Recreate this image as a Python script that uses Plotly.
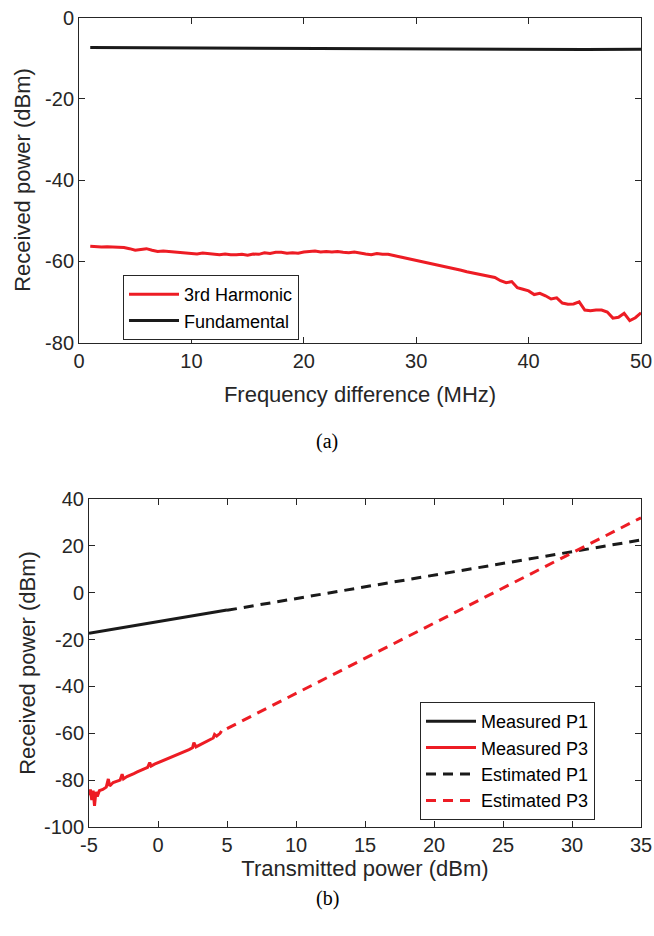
import plotly.graph_objects as go

# ---------------- (a) data ----------------
freq_mhz = [1.0, 1.5, 2.0, 2.5, 3.0, 3.5, 4.0, 4.5, 5.0, 5.5, 6.0, 6.5, 7.0, 7.5, 8.0, 8.5, 9.0, 9.5,
            10.0, 10.5, 11.0, 11.5, 12.0, 12.5, 13.0, 13.5, 14.0, 14.5, 15.0, 15.5, 16.0, 16.5, 17.0, 17.5,
            18.0, 18.5, 19.0, 19.5, 20.0, 20.5, 21.0, 21.5, 22.0, 22.5, 23.0, 23.5, 24.0, 24.5, 25.0, 25.5,
            26.0, 26.5, 27.0, 27.5, 28.0, 28.5, 29.0, 29.5, 30.0, 30.5, 31.0, 31.5, 32.0, 32.5, 33.0, 33.5,
            34.0, 34.5, 35.0, 35.5, 36.0, 36.5, 37.0, 37.5, 38.0, 38.5, 39.0, 39.5, 40.0, 40.5, 41.0, 41.5,
            42.0, 42.5, 43.0, 43.5, 44.0, 44.5, 45.0, 45.5, 46.0, 46.5, 47.0, 47.5, 48.0, 48.5, 49.0, 49.5, 50.0]
harmonic3_dbm = [-56.3, -56.4, -56.5, -56.4, -56.5, -56.6, -56.6, -56.9, -57.3, -57.1, -56.9, -57.3, -57.6, -57.5,
                 -57.6, -57.8, -57.8, -57.9, -58.0, -58.2, -58.0, -58.1, -58.3, -58.4, -58.2, -58.4, -58.4, -58.3,
                 -58.5, -58.2, -58.3, -57.9, -58.1, -57.8, -57.8, -58.0, -57.9, -58.0, -57.7, -57.6, -57.5, -57.7,
                 -57.6, -57.7, -57.6, -57.8, -57.9, -57.7, -58.0, -58.2, -58.4, -58.1, -58.3, -58.3, -58.6, -58.9,
                 -59.1, -59.4, -59.8, -60.1, -60.3, -60.7, -60.9, -61.3, -61.5, -61.8, -62.2, -62.6, -62.9, -63.1,
                 -63.4, -63.7, -64.0, -64.8, -65.3, -65.0, -66.5, -66.9, -67.3, -68.2, -67.9, -68.5, -69.3, -69.0,
                 -70.3, -70.6, -70.5, -70.0, -72.0, -72.2, -72.0, -72.0, -72.5, -74.0, -73.8, -72.8, -74.6, -73.9,
                 -72.7]
fund_freq_mhz = [1, 5, 10, 15, 20, 25, 30, 35, 40, 45, 50]
fundamental_dbm = [-7.4, -7.45, -7.5, -7.55, -7.6, -7.65, -7.7, -7.8, -7.9, -7.9, -7.8]

# ---------------- (b) data ----------------
p1_tx_dbm = [-5, -4, -3, -2, -1, 0, 1, 2, 3, 4, 5]
p1_meas_dbm = [-17.3, -16.3, -15.3, -14.3, -13.3, -12.4, -11.4, -10.4, -9.4, -8.4, -7.4]
p3_tx_dbm = [-5.0, -4.9, -4.8, -4.7, -4.6, -4.5, -4.4, -4.25, -4.0, -3.75, -3.6, -3.5, -3.25, -3.0, -2.75,
             -2.6, -2.5, -2.25, -2.0, -1.75, -1.5, -1.25, -1.0, -0.75, -0.6, -0.5, -0.25, 0.0, 0.25, 0.5,
             0.75, 1.0, 1.25, 1.5, 1.75, 2.0, 2.25, 2.5, 2.6, 2.75, 3.0, 3.25, 3.5, 3.75, 4.0, 4.1, 4.25,
             4.5, 4.6]
p3_meas_dbm = [-86.5, -84.0, -88.5, -84.5, -91.0, -85.0, -87.0, -84.5, -84.0, -83.0, -79.5, -82.5, -81.0,
               -80.5, -80.0, -77.5, -79.5, -78.5, -78.0, -77.2, -76.5, -75.8, -75.0, -74.5, -72.5, -74.0,
               -73.2, -72.6, -72.0, -71.3, -70.6, -70.0, -69.4, -68.8, -68.2, -67.6, -67.0, -66.2, -64.0,
               -65.8, -65.0, -64.2, -63.5, -62.8, -62.0, -60.5, -61.2, -60.0, -59.0]
est_tx_dbm = [5, 35]
p1_est_dbm = [-7.5, 22.5]
p3_est_dbm = [-58.0, 32.0]

# ---------------- ticks ----------------
a_xticks = [0, 10, 20, 30, 40, 50]
a_xticktext = ["0", "10", "20", "30", "40", "50"]
a_yticks = [-80, -60, -40, -20, 0]
a_yticktext = ["-80", "-60", "-40", "-20", "0"]
b_xticks = [-5, 0, 5, 10, 15, 20, 25, 30, 35]
b_xticktext = ["-5", "0", "5", "10", "15", "20", "25", "30", "35"]
b_yticks = [-100, -80, -60, -40, -20, 0, 20, 40]
b_yticktext = ["-100", "-80", "-60", "-40", "-20", "0", "20", "40"]

RED = "#ED1C24"
BLACK = "#1A1A1A"
AX = "#262626"
FONT = "Liberation Sans, Arial, sans-serif"
LW = 3

fig = go.Figure()
fig.add_trace(go.Scatter(x=freq_mhz, y=harmonic3_dbm, mode="lines", name="3rd Harmonic",
                         line=dict(color=RED, width=LW), xaxis="x", yaxis="y", legend="legend"))
fig.add_trace(go.Scatter(x=fund_freq_mhz, y=fundamental_dbm, mode="lines", name="Fundamental",
                         line=dict(color=BLACK, width=LW), xaxis="x", yaxis="y", legend="legend"))

fig.add_trace(go.Scatter(x=p1_tx_dbm, y=p1_meas_dbm, mode="lines", name="Measured P1",
                         line=dict(color=BLACK, width=LW), xaxis="x2", yaxis="y2", legend="legend2"))
fig.add_trace(go.Scatter(x=p3_tx_dbm, y=p3_meas_dbm, mode="lines", name="Measured P3",
                         line=dict(color=RED, width=LW), xaxis="x2", yaxis="y2", legend="legend2"))
fig.add_trace(go.Scatter(x=est_tx_dbm, y=p1_est_dbm, mode="lines", name="Estimated P1",
                         line=dict(color=BLACK, width=LW, dash="10px,7px"), xaxis="x2", yaxis="y2",
                         legend="legend2"))
fig.add_trace(go.Scatter(x=est_tx_dbm, y=p3_est_dbm, mode="lines", name="Estimated P3",
                         line=dict(color=RED, width=LW, dash="10px,7px"), xaxis="x2", yaxis="y2",
                         legend="legend2"))

W, H = 654, 936


def axis_common():
    return dict(showline=True, linecolor=AX, linewidth=1, mirror="ticks", ticks="inside",
                ticklen=6, tickcolor=AX, tickwidth=1, showgrid=False, zeroline=False,
                automargin=False,
                tickfont=dict(family=FONT, size=20, color=AX),
                title_font=dict(family=FONT, size=22, color=AX))


xa = axis_common()
xa.update(domain=[79 / W, 641 / W], range=[0, 50], tickvals=a_xticks, ticktext=a_xticktext,
          anchor="y", title=dict(text="Frequency difference (MHz)", standoff=16))
ya = axis_common()
ya.update(domain=[1 - 342.5 / H, 1 - 17.5 / H], range=[-80, 0], tickvals=a_yticks,
          ticktext=a_yticktext, anchor="x", title=dict(text="Received power (dBm)", standoff=8))
xb = axis_common()
xb.update(domain=[89 / W, 641 / W], range=[-5, 35], tickvals=b_xticks, ticktext=b_xticktext,
          anchor="y2", title=dict(text="Transmitted power (dBm)", standoff=2))
yb = axis_common()
yb.update(domain=[1 - 827 / H, 1 - 499 / H], range=[-100, 40], tickvals=b_yticks,
          ticktext=b_yticktext, anchor="x2", title=dict(text="Received power (dBm)", standoff=2))

fig.update_layout(
    width=W, height=H, margin=dict(l=0, r=0, t=0, b=0, autoexpand=False),
    paper_bgcolor="white", plot_bgcolor="white",
    xaxis=xa, yaxis=ya, xaxis2=xb, yaxis2=yb,
    legend=dict(x=123 / W, y=1 - 275 / H, xanchor="left", yanchor="top",
                bordercolor=AX, borderwidth=1, bgcolor="white", itemwidth=50,
                font=dict(family=FONT, size=18, color="#000000"), tracegroupgap=0),
    legend2=dict(x=420 / W, y=1 - 702 / H, xanchor="left", yanchor="top",
                 bordercolor=AX, borderwidth=1, bgcolor="white", itemwidth=50,
                 font=dict(family=FONT, size=18, color="#000000"), tracegroupgap=0),
    showlegend=True,
    annotations=[
        dict(text="(a)", x=0.5, y=1 - 441 / H, xref="paper", yref="paper", showarrow=False,
             font=dict(family="Liberation Serif, Times New Roman, serif", size=20, color="#000000")),
        dict(text="(b)", x=0.5, y=1 - 912 / H, xref="paper", yref="paper", showarrow=False,
             font=dict(family="Liberation Serif, Times New Roman, serif", size=20, color="#000000")),
    ],
)

fig.write_html("out.html", config={"displayModeBar": False},
               post_script="document.body.style.margin='0';document.body.style.overflow='hidden';")
